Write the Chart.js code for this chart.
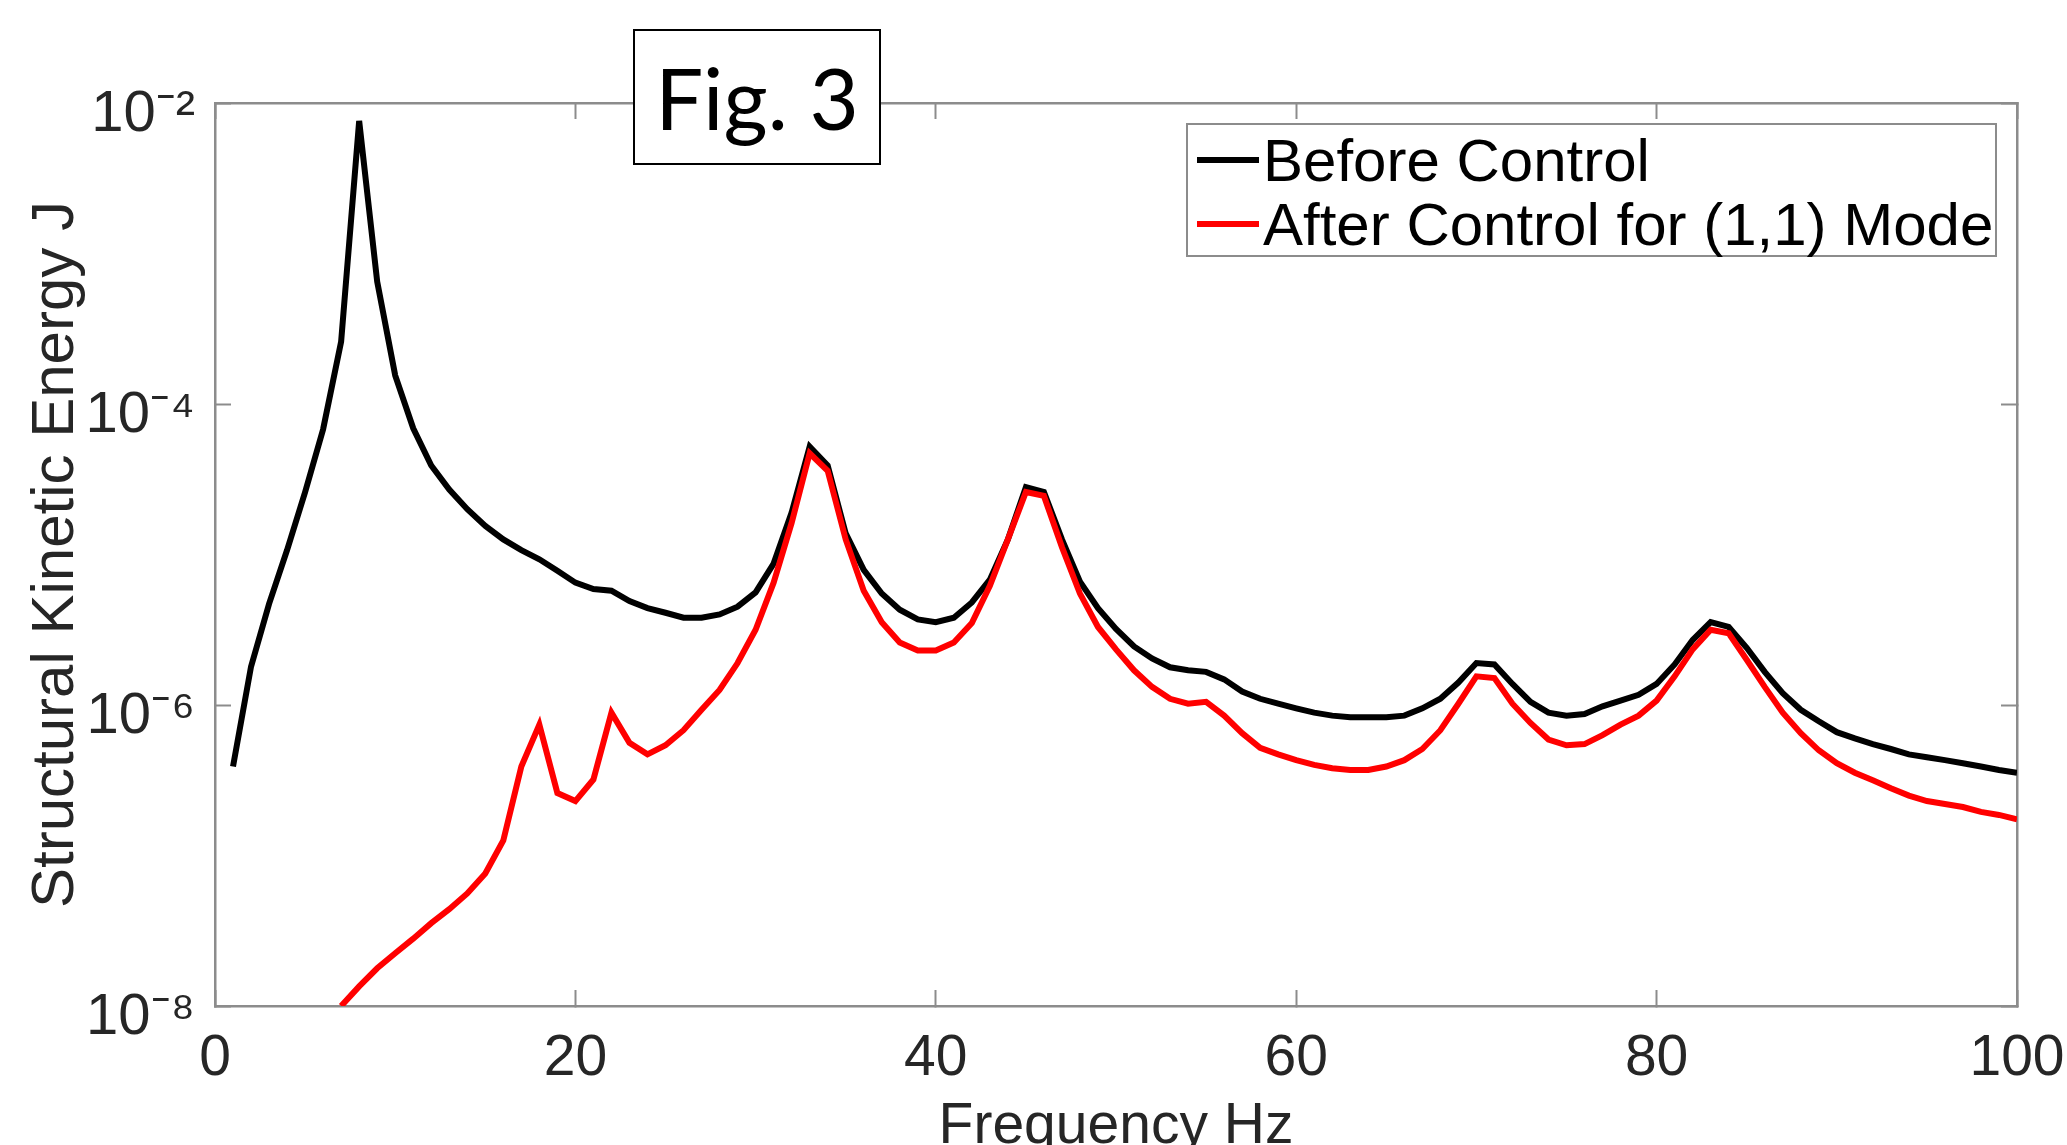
<!DOCTYPE html>
<html>
<head>
<meta charset="utf-8">
<script src="https://cdn.jsdelivr.net/npm/chart.js@4.4.1/dist/chart.umd.min.js"></script>
<style>
  body { margin: 0; background: #fff; }
  #wrap { position: relative; width: 2067px; height: 1145px; overflow: hidden; }
  #figLabel {
    position: absolute; left: 633px; top: 29px; width: 244px; height: 132px;
    border: 2px solid #000; background: #fff;
    font-family: Lato, "Open Sans", sans-serif; font-size: 85px; color: #000;
    display: flex; align-items: center; justify-content: center;
  }
  #legend {
    position: absolute; left: 1186px; top: 123px; width: 807px; height: 130px;
    border: 2px solid #8c8c8c; background: #fff;
    font-family: "Liberation Sans", Arial, sans-serif; font-size: 60px; color: #000;
  }
  .row { position: absolute; left: 9px; height: 60px; display: flex; align-items: center; white-space: nowrap; }
  .swatch { width: 62px; height: 6px; margin-right: 4px; }
</style>
</head>
<body>
<div id="wrap">
  <canvas id="chart" width="2067" height="1145"></canvas>
  <div id="figLabel">Fig. 3</div>
  <div id="legend">
    <div class="row" style="top:5px"><span class="swatch" style="background:#000"></span>Before Control</div>
    <div class="row" style="top:69px"><span class="swatch" style="background:#ff0000"></span>After Control for (1,1) Mode</div>
  </div>
</div>
<script>
// frequency (Hz)
const freqHz = [
  1, 2, 3, 4, 5, 6, 7, 8, 9, 10,
  11, 12, 13, 14, 15, 16, 17, 18, 19, 20,
  21, 22, 23, 24, 25, 26, 27, 28, 29, 30,
  31, 32, 33, 34, 35, 36, 37, 38, 39, 40,
  41, 42, 43, 44, 45, 46, 47, 48, 49, 50,
  51, 52, 53, 54, 55, 56, 57, 58, 59, 60,
  61, 62, 63, 64, 65, 66, 67, 68, 69, 70,
  71, 72, 73, 74, 75, 76, 77, 78, 79, 80,
  81, 82, 83, 84, 85, 86, 87, 88, 89, 90,
  91, 92, 93, 94, 95, 96, 97, 98, 99, 100
];

// structural kinetic energy (J)
const beforeControl = [
  3.9e-7, 1.8e-6, 4.7e-6, 1.07e-5, 2.6e-5, 6.8e-5, 2.6e-4, 7.6e-3, 6.5e-4, 1.55e-4,
  6.9e-5, 3.9e-5, 2.7e-5, 2.0e-5, 1.55e-5, 1.26e-5, 1.07e-5, 9.3e-6, 7.8e-6, 6.5e-6,
  5.9e-6, 5.75e-6, 4.9e-6, 4.4e-6, 4.1e-6, 3.8e-6, 3.8e-6, 4.0e-6, 4.5e-6, 5.6e-6,
  8.7e-6, 1.9e-5, 5.2e-5, 3.9e-5, 1.38e-5, 7.9e-6, 5.5e-6, 4.3e-6, 3.7e-6, 3.55e-6,
  3.8e-6, 4.8e-6, 6.8e-6, 1.26e-5, 2.8e-5, 2.6e-5, 1.26e-5, 6.6e-6, 4.4e-6, 3.2e-6,
  2.45e-6, 2.04e-6, 1.78e-6, 1.70e-6, 1.66e-6, 1.48e-6, 1.23e-6, 1.10e-6, 1.02e-6, 9.5e-7,
  8.9e-7, 8.5e-7, 8.3e-7, 8.3e-7, 8.3e-7, 8.5e-7, 9.5e-7, 1.10e-6, 1.41e-6, 1.9e-6,
  1.86e-6, 1.38e-6, 1.05e-6, 8.9e-7, 8.5e-7, 8.7e-7, 9.8e-7, 1.07e-6, 1.17e-6, 1.38e-6,
  1.86e-6, 2.7e-6, 3.55e-6, 3.3e-6, 2.4e-6, 1.66e-6, 1.20e-6, 9.3e-7, 7.8e-7, 6.6e-7,
  6.0e-7, 5.5e-7, 5.1e-7, 4.7e-7, 4.5e-7, 4.3e-7, 4.1e-7, 3.9e-7, 3.7e-7, 3.55e-7
];

const afterControl = [
  null, null, null, null, null, null, 1.0e-8, 1.35e-8, 1.78e-8, 2.24e-8,
  2.8e-8, 3.55e-8, 4.4e-8, 5.6e-8, 7.6e-8, 1.26e-7, 3.9e-7, 7.4e-7, 2.6e-7, 2.3e-7,
  3.2e-7, 8.9e-7, 5.6e-7, 4.7e-7, 5.4e-7, 6.8e-7, 9.3e-7, 1.26e-6, 1.9e-6, 3.16e-6,
  6.5e-6, 1.62e-5, 4.7e-5, 3.6e-5, 1.26e-5, 5.75e-6, 3.55e-6, 2.6e-6, 2.3e-6, 2.3e-6,
  2.6e-6, 3.5e-6, 6.2e-6, 1.26e-5, 2.6e-5, 2.45e-5, 1.12e-5, 5.5e-6, 3.3e-6, 2.34e-6,
  1.70e-6, 1.32e-6, 1.10e-6, 1.02e-6, 1.05e-6, 8.5e-7, 6.5e-7, 5.2e-7, 4.7e-7, 4.3e-7,
  4.0e-7, 3.8e-7, 3.7e-7, 3.7e-7, 3.9e-7, 4.3e-7, 5.1e-7, 6.8e-7, 1.02e-6, 1.55e-6,
  1.51e-6, 1.02e-6, 7.6e-7, 5.9e-7, 5.4e-7, 5.5e-7, 6.3e-7, 7.4e-7, 8.5e-7, 1.07e-6,
  1.55e-6, 2.34e-6, 3.16e-6, 3.0e-6, 2.0e-6, 1.32e-6, 8.9e-7, 6.5e-7, 5.0e-7, 4.1e-7,
  3.55e-7, 3.16e-7, 2.8e-7, 2.5e-7, 2.3e-7, 2.2e-7, 2.1e-7, 1.95e-7, 1.86e-7, 1.74e-7
];

const yTickValues = [1e-8, 1e-6, 1e-4, 1e-2];
const xMin = 0, xMax = 100, xStep = 20;

const axisGray = "#8c8c8c";
const textGray = "#262626";
const fontFamily = "'Liberation Sans', Arial, sans-serif";

const supMap = { "-": "\u207B", "0": "\u2070", "1": "\u00B9", "2": "\u00B2", "3": "\u00B3",
  "4": "\u2074", "5": "\u2075", "6": "\u2076", "7": "\u2077", "8": "\u2078", "9": "\u2079" };
function powerLabel(v) {
  const e = String(Math.round(Math.log10(v)));
  return "10" + e.split("").map((c) => supMap[c]).join("");
}

function setLogTicks(scale) {
  scale.ticks = yTickValues.map((v) => ({ value: v }));
}

// fixed box sizes so the plot area lands where the original one is
function fixHeight(h) {
  return function (scale) {
    scale.height = h;
    scale.paddingLeft = 0;
    scale.paddingRight = 0;
  };
}
function fixWidth(w) {
  return function (scale) {
    scale.width = w;
    scale.paddingTop = 0;
    scale.paddingBottom = 0;
  };
}

const tickGrid = {
  drawOnChartArea: false,
  drawTicks: true,
  tickLength: -16,
  tickWidth: 2,
  tickColor: axisGray,
};
const axisBorder = { display: true, color: axisGray, width: 2.5 };

const ctx = document.getElementById("chart").getContext("2d");
const chart = new Chart(ctx, {
  type: "line",
  data: {
    datasets: [
      {
        label: "Before Control",
        data: freqHz.map((f, i) => ({ x: f, y: beforeControl[i] })),
        borderColor: "#000000",
        borderWidth: 6,
        pointRadius: 0,
        tension: 0,
        fill: false,
        order: 1,
        xAxisID: "x",
        yAxisID: "y",
      },
      {
        label: "After Control for (1,1) Mode",
        data: freqHz.map((f, i) => ({ x: f, y: afterControl[i] })),
        borderColor: "#ff0000",
        borderWidth: 6,
        pointRadius: 0,
        tension: 0,
        fill: false,
        order: 0,
        xAxisID: "x",
        yAxisID: "y",
      },
    ],
  },
  options: {
    responsive: false,
    animation: false,
    layout: { padding: 0 },
    plugins: {
      legend: { display: false },
      tooltip: { enabled: false },
    },
    scales: {
      x: {
        type: "linear",
        position: "bottom",
        min: xMin,
        max: xMax,
        ticks: {
          stepSize: xStep,
          autoSkip: false,
          maxRotation: 0,
          padding: 35,
          color: textGray,
          font: { family: fontFamily, size: 57 },
        },
        grid: tickGrid,
        border: axisBorder,
        title: {
          display: true,
          text: "Frequency Hz",
          color: textGray,
          font: { family: fontFamily, size: 57, lineHeight: 1 },
          padding: { top: 0, bottom: -11 },
        },
        afterFit: fixHeight(139),
      },
      x2: {
        type: "linear",
        position: "top",
        min: xMin,
        max: xMax,
        ticks: { stepSize: xStep, display: false },
        grid: tickGrid,
        border: axisBorder,
        afterFit: fixHeight(103),
      },
      y: {
        type: "logarithmic",
        position: "left",
        min: 1e-8,
        max: 1e-2,
        afterBuildTicks: setLogTicks,
        ticks: {
          autoSkip: false,
          padding: 36,
          labelOffset: 12,
          color: textGray,
          font: { family: fontFamily, size: 58 },
          callback: (v) => powerLabel(v),
        },
        grid: tickGrid,
        border: axisBorder,
        title: {
          display: true,
          text: "Structural Kinetic Energy J",
          color: textGray,
          font: { family: fontFamily, size: 60, lineHeight: 1 },
          padding: { top: 26, bottom: 0 },
        },
        afterFit: fixWidth(215),
      },
      y2: {
        type: "logarithmic",
        position: "right",
        min: 1e-8,
        max: 1e-2,
        afterBuildTicks: setLogTicks,
        ticks: { display: false },
        grid: tickGrid,
        border: axisBorder,
        afterFit: fixWidth(50),
      },
    },
  },
});
</script>
</body>
</html>
